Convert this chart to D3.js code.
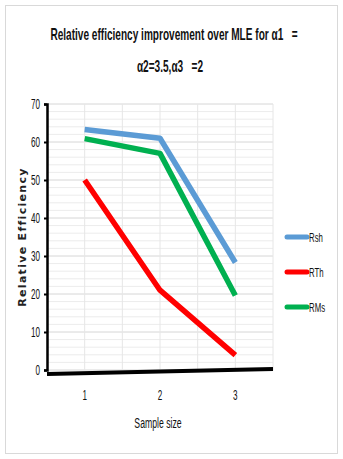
<!DOCTYPE html>
<html>
<head>
<meta charset="utf-8">
<script src="https://cdn.jsdelivr.net/npm/d3@7"></script>
<style>
  body { margin: 0; background: #fff; }
  .cond { font-family: "Liberation Sans", Arial, sans-serif; white-space: pre; }
</style>
</head>
<body>
<div id="chart"></div>
<script>
// data
let categories = ['1', '2', '3']
let rsh = [63.3, 61.0, 28.3]
let rth = [50.0, 21.0, 3.9]
let rms = [60.9, 57.0, 19.6]
let yTicks = [0, 10, 20, 30, 40, 50, 60, 70]

let series = [
    { name: 'Rsh', values: rsh, color: '#5b9bd5' },
    { name: 'RTh', values: rth, color: '#ff0000' },
    { name: 'RMs', values: rms, color: '#00b050' },
]

let squeezeK = 0.58 // the scan is narrow, Calibri-like

let W = 343, H = 459
let margin = { top: 104, right: 70, bottom: 89, left: 47 }
let width = W - margin.left - margin.right
let height = H - margin.top - margin.bottom

let root = d3.select('#chart').append('svg')
    .attr('width', W)
    .attr('height', H)

// places a narrowed text at (x, y)
function narrowText(parent, x, y, size, str, k) {
    k = k || squeezeK
    return parent.append('text')
        .attr('class', 'cond')
        .attr('transform', `translate(${x}, ${y}) scale(${k}, 1)`)
        .attr('font-size', size)
        .attr('fill', '#111')
        .text(str)
}

// outer border
root.append('rect')
    .attr('x', 5.5).attr('y', 5.5)
    .attr('width', W - 11).attr('height', H - 11)
    .attr('fill', '#fff')
    .attr('stroke', '#d9d9d9')

// title
narrowText(root, 174, 40, 16, 'Relative efficiency improvement over MLE for α1   =', 0.63)
    .attr('text-anchor', 'middle')
    .attr('font-weight', 'bold')
narrowText(root, 170, 72, 16, 'α2=3.5,α3   =2', 0.63)
    .attr('text-anchor', 'middle')
    .attr('font-weight', 'bold')

let svg = root.append('g')
    .attr('transform', `translate(${margin.left}, ${margin.top})`)

let x = d3.scalePoint()
    .domain(categories)
    .range([0, width])
    .padding(0.5)

let y = d3.scaleLinear()
    .domain([0, 70])
    .range([height, 0])

// minor horizontal grid every 2
svg.append('g')
    .selectAll('line')
    .data(d3.range(0, 71, 2))
    .join('line')
    .attr('x1', 0).attr('x2', width)
    .attr('y1', d => y(d)).attr('y2', d => y(d))
    .attr('stroke', d => d % 10 === 0 ? '#d6d6d6' : '#ececec')
    .attr('stroke-width', 1)

// vertical grid: at categories and midpoints
let step = x.step()
svg.append('g')
    .selectAll('line')
    .data(d3.range(0, 7))
    .join('line')
    .attr('x1', d => d * step / 2).attr('x2', d => d * step / 2)
    .attr('y1', 0).attr('y2', height)
    .attr('stroke', '#e6e6e6')

// y axis
let yAxis = svg.append('g')
    .call(d3.axisLeft(y).tickValues(yTicks).tickSize(3).tickPadding(4))
yAxis.select('.domain').attr('stroke', '#000').attr('stroke-width', 2.5)
yAxis.selectAll('.tick line').attr('stroke', '#000').attr('stroke-width', 2)
yAxis.selectAll('text')
    .attr('class', 'cond')
    .attr('font-size', 14)
    .attr('fill', '#111')
    .attr('x', -7 / squeezeK)
    .attr('transform', `scale(${squeezeK}, 1)`)

// x axis (thick, slightly slanted like the scan)
svg.append('line')
    .attr('x1', 0).attr('x2', width)
    .attr('y1', y(0) + 4).attr('y2', y(0) - 1)
    .attr('stroke', '#000')
    .attr('stroke-width', 4)

let xLabels = svg.append('g')
categories.forEach(c => {
    narrowText(xLabels, x(c), height + 30, 14, c).attr('text-anchor', 'middle')
})

// axis titles
narrowText(svg, x('2') - 2, height + 58, 14.5, 'Sample size', 0.6).attr('text-anchor', 'middle')

svg.append('text')
    .attr('transform', `translate(-21, ${y(35)}) rotate(-90)`)
    .attr('text-anchor', 'middle')
    .attr('font-family', 'DejaVu Sans, Verdana, sans-serif')
    .attr('font-weight', 'bold')
    .attr('font-size', 11)
    .attr('letter-spacing', 1.3)
    .attr('fill', '#222')
    .text('Relative Efficiency')

// lines
let line = d3.line()
    .x((d, i) => x(categories[i]))
    .y(d => y(d))

svg.selectAll('.series')
    .data(series)
    .join('path')
    .attr('class', 'series')
    .attr('d', d => line(d.values))
    .attr('fill', 'none')
    .attr('stroke', d => d.color)
    .attr('stroke-width', 5.5)
    .attr('stroke-linejoin', 'round')

// legend
let legend = root.append('g')
    .selectAll('g')
    .data(series)
    .join('g')
    .attr('transform', (d, i) => `translate(287, ${237 + i * 35})`)

legend.append('line')
    .attr('x1', 0).attr('x2', 20)
    .attr('stroke', d => d.color)
    .attr('stroke-width', 5)
    .attr('stroke-linecap', 'round')

legend.append('text')
    .attr('class', 'cond')
    .attr('transform', `translate(22, 0) scale(0.6, 1)`)
    .attr('dy', '0.35em')
    .attr('font-size', 13)
    .attr('fill', '#111')
    .text(d => d.name)
</script>
</body>
</html>
